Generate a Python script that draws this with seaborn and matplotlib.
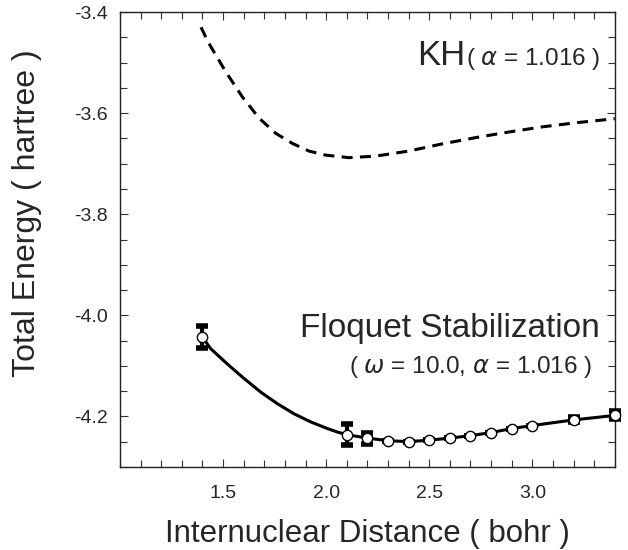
import numpy as np
import pandas as pd
import matplotlib
matplotlib.use("Agg")
import matplotlib.pyplot as plt
from matplotlib.ticker import MultipleLocator
import seaborn as sns

# KH (dashed) curve
kh_x = [1.393, 1.43, 1.513, 1.594, 1.675, 1.756, 1.837, 1.917, 1.998, 2.11,
        2.24, 2.40, 2.56, 2.73, 2.89, 3.05, 3.21, 3.40]
kh_y = [-3.430, -3.461, -3.518, -3.568, -3.610, -3.640, -3.660, -3.675, -3.683, -3.688,
        -3.685, -3.675, -3.661, -3.648, -3.637, -3.627, -3.619, -3.611]

# Floquet data points with error bars
floq_x = [1.4, 2.1, 2.2, 2.3, 2.4, 2.5, 2.6, 2.7, 2.8, 2.9, 3.0, 3.2, 3.4]
floq_y = [-4.043, -4.236, -4.243, -4.248, -4.250, -4.247, -4.243, -4.238,
          -4.232, -4.224, -4.218, -4.207, -4.198]
floq_err = [0.022, 0.020, 0.011, 0.0, 0.0, 0.0, 0.0, 0.0, 0.0, 0.0, 0.0, 0.005, 0.008]

# solid fitted curve between 1.4 and 2.1
fit_x = [1.40, 1.44, 1.52, 1.602, 1.683, 1.764, 1.845, 1.926, 2.006, 2.055, 2.10]
fit_y = [-4.043, -4.066, -4.096, -4.125, -4.152, -4.175, -4.195, -4.211, -4.224, -4.231, -4.236]

sns.set_style("ticks")
plt.rcParams['font.family'] = ['Liberation Sans', 'DejaVu Sans']
plt.rcParams['mathtext.fontset'] = 'dejavusans'

fig = plt.figure(figsize=(6.28, 5.5), dpi=100)
ax = fig.add_axes([0.191, 0.151, 0.788, 0.827])

kh = pd.DataFrame({'x': kh_x, 'y': kh_y})
sns.lineplot(data=kh, x='x', y='y', ax=ax, color='black', lw=2.2,
             linestyle=(0, (3.6, 2.4)), sort=False)

line = pd.DataFrame({'x': fit_x + floq_x[2:], 'y': fit_y + floq_y[2:]})
sns.lineplot(data=line, x='x', y='y', ax=ax, color='black', lw=2.2, sort=False)

ax.errorbar(floq_x, floq_y, yerr=floq_err, fmt='none', ecolor='black',
            elinewidth=3, capsize=4.5, capthick=4, zorder=3, clip_on=False)
pts = pd.DataFrame({'x': floq_x, 'y': floq_y})
sns.scatterplot(data=pts, x='x', y='y', ax=ax, s=55, color='white',
                edgecolor='black', linewidth=1.0, zorder=4, clip_on=False)

ax.set_xlim(1.0, 3.4)
ax.set_ylim(-4.3, -3.4)
ax.xaxis.set_minor_locator(MultipleLocator(0.1))
ax.yaxis.set_minor_locator(MultipleLocator(0.05))
ax.set_xticks([1.5, 2.0, 2.5, 3.0])
ax.set_xticklabels(['1.5', '2.0', '2.5', '3.0'])
ax.set_yticks([-4.2, -4.0, -3.8, -3.6, -3.4])
ax.set_yticklabels(['-4.2', '-4.0', '-3.8', '-3.6', '-3.4'])
ax.tick_params(which='both', direction='in', top=True, right=True,
               labelsize=14, width=0.8, color='#333333')
ax.tick_params(which='major', length=6)
ax.tick_params(which='minor', length=5)
ax.tick_params(axis='x', which='major', pad=13)
ax.tick_params(axis='y', which='major', pad=9)
for s in ax.spines.values():
    s.set_linewidth(1.0)
    s.set_color('#222222')

ax.set_xlabel('Internuclear Distance ( bohr )', fontsize=22.5, labelpad=12)
ax.set_ylabel('Total Energy ( hartree )', fontsize=23)
ax.yaxis.set_label_coords(-0.158, 0.558)

ax.text(0.699, 0.883, 'KH', transform=ax.transAxes, fontsize=25,
        ha='right', va='baseline')
ax.text(0.970, 0.883, r'( $\alpha$ = 1.016 )', transform=ax.transAxes,
        fontsize=17.5, ha='right', va='baseline')
ax.text(0.970, 0.286, 'Floquet Stabilization', transform=ax.transAxes,
        fontsize=24, ha='right', va='baseline')
ax.text(0.954, 0.207, r'( $\omega$ = 10.0, $\alpha$ = 1.016 )', transform=ax.transAxes,
        fontsize=17.5, ha='right', va='baseline')

fig.savefig('out.png', dpi=100)
